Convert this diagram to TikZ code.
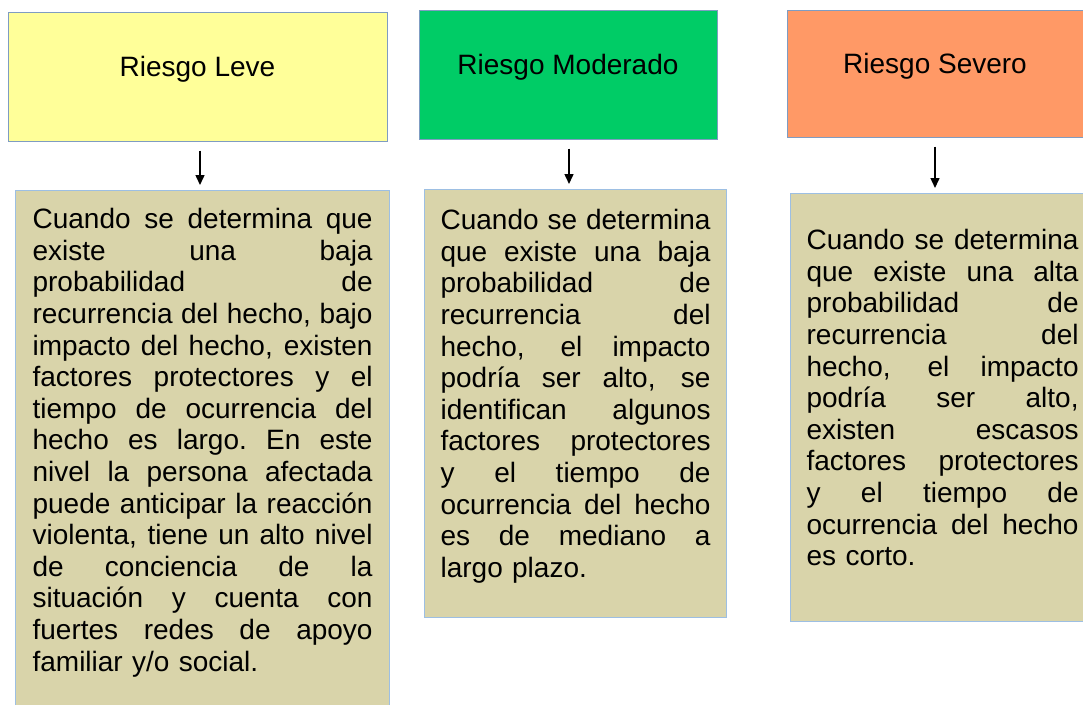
\documentclass[tikz,border=0pt]{standalone}
\usepackage{fontspec}
\setmainfont{Liberation Sans}
\usetikzlibrary{arrows.meta}
\definecolor{leve}{HTML}{FFFF99}
\definecolor{moderado}{HTML}{00CC66}
\definecolor{severo}{HTML}{FF9966}
\definecolor{caja}{HTML}{D9D4AA}
\definecolor{borde}{HTML}{7F9CC2}
\definecolor{bordecaja}{HTML}{9DBFE3}
\newcommand{\jl}[1]{\makebox[\hsize][s]{\spaceskip=.278em plus 1fil\xspaceskip=.278em plus 1fil\relax#1}\\}
\begin{document}
\begin{tikzpicture}[x=1pt,y=-1pt,
  >={Triangle[width=9pt,length=10pt]},
  nivel/.style={draw=borde, line width=1pt, minimum height=129pt, text height=21pt, text depth=22pt,
    font=\fontsize{28}{31.6}\selectfont},
  texto/.style={draw=bordecaja, fill=caja, line width=1.2pt, anchor=north west, align=left,
    inner xsep=16pt, inner ysep=17pt, font=\fontsize{28}{31.6}\selectfont},
  flecha/.style={->, line width=1.5pt, shorten <=9pt, shorten >=5pt}]
\useasboundingbox (0,0) rectangle (1083,704);

\node[nivel, fill=leve, minimum width=379pt] (leve) at (197.5,76.5) {Riesgo Leve};
\node[nivel, fill=moderado, minimum width=298pt] (moderado) at (568,74.5) {Riesgo Moderado};
\node[nivel, fill=severo, minimum width=296pt, minimum height=127pt] (severo) at (935,73.5) {Riesgo Severo};

\node[texto, text width=340pt, inner xsep=17pt, text height=21pt, text depth=475pt] (tleve) at (15,190) {%
\jl{Cuando se determina que}\jl{existe una baja}\jl{probabilidad de}%
\jl{recurrencia del hecho, bajo}\jl{impacto del hecho, existen}\jl{factores protectores y el}%
\jl{tiempo de ocurrencia del}\jl{hecho es largo. En este}\jl{nivel la persona afectada}%
\jl{puede anticipar la reacción}\jl{violenta, tiene un alto nivel}\jl{de conciencia de la}%
\jl{situación y cuenta con}\jl{fuertes redes de apoyo}familiar y/o social.};

\node[texto, text width=270pt, text height=23pt, text depth=371pt] (tmoderado) at (424,189) {%
\jl{Cuando se determina}\jl{que existe una baja}\jl{probabilidad de}%
\jl{recurrencia del}\jl{hecho, el impacto}\jl{podría ser alto, se}%
\jl{identifican algunos}\jl{factores protectores}\jl{y el tiempo de}%
\jl{ocurrencia del hecho}\jl{es de mediano a}largo plazo.};

\node[texto, text width=272pt, text height=39pt, text depth=355pt] (tsevero) at (790,193) {%
\jl{Cuando se determina}\jl{que existe una alta}\jl{probabilidad de}%
\jl{recurrencia del}\jl{hecho, el impacto}\jl{podría ser alto,}%
\jl{existen escasos}\jl{factores protectores}\jl{y el tiempo de}%
\jl{ocurrencia del hecho}es corto.};

\draw[flecha] (leve.south) ++(2.5,0) coordinate (a1) -- (a1 |- tleve.north);
\draw[flecha] (moderado.south) ++(1,0) coordinate (a2) -- (a2 |- tmoderado.north);
\draw[flecha] (severo.south) -- (severo.south |- tsevero.north);
\end{tikzpicture}
\end{document}
